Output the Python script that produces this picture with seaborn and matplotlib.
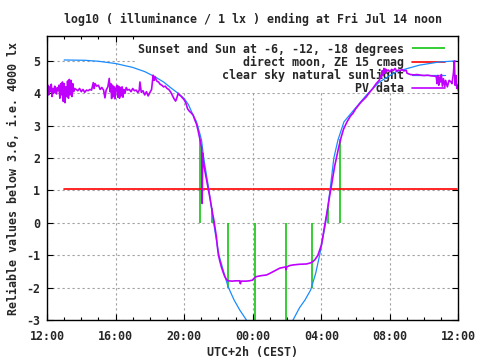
import matplotlib
matplotlib.use("Agg")
import pandas as pd
import matplotlib.pyplot as plt
from matplotlib.patches import Rectangle
import seaborn as sns

# hours after Thu 12:00 CEST
sun_hours = [8.95, 9.65, 10.56, 12.13, 13.94, 15.47, 16.39, 17.08]
sun_tops = [2.58, 0.45, -2.0, -3.0, -3.0, -2.0, 0.45, 2.58]

moon_hours = [1.0, 11.93, 12.0, 23.9]
moon_values = [1.06, 1.06, 1.06, 1.06]
moon_segment = [0, 0, 1, 1]

sky_hours = [1.0, 2.2, 3.0, 4.0, 5.0, 5.7, 6.3, 6.8, 7.27, 7.65, 8.0, 8.25, 8.5,
             8.72, 8.9, 9.01, 9.14, 9.43, 9.72, 9.87, 10.03, 10.33, 10.56, 10.91,
             11.24, 11.63, 11.9, 14.1, 14.35, 14.73, 15.05, 15.38, 15.67, 15.9,
             16.06, 16.25, 16.52, 16.73, 16.97, 17.32, 17.84, 18.62, 19.39, 20.37,
             21.72, 22.9, 23.86]
sky_values = [5.03, 5.02, 4.99, 4.92, 4.80, 4.67, 4.51, 4.35, 4.15, 4.0, 3.84, 3.65, 3.35,
              3.12, 2.78, 2.56, 2.0, 1.06, 0.0, -0.5, -1.0, -1.56, -1.97, -2.38,
              -2.69, -3.0, -3.3, -3.3, -3.0, -2.62, -2.38, -2.07, -1.56, -1.0,
              -0.56, 0.0, 1.06, 2.0, 2.56, 3.12, 3.45, 3.94, 4.35, 4.67,
              4.87, 4.97, 5.0]

pv_hours = [0.00, 0.05, 0.10, 0.15, 0.20, 0.25, 0.30, 0.35, 0.40, 0.45, 0.50, 0.55,
            0.60, 0.65, 0.70, 0.75, 0.80, 0.85, 0.90, 0.95, 1.00, 1.05, 1.10, 1.15,
            1.20, 1.25, 1.30, 1.35, 1.40, 1.45, 1.50, 1.55, 1.60, 1.70, 1.80, 1.90,
            2.00, 2.10, 2.20, 2.30, 2.40, 2.50, 2.60, 2.70, 2.75, 2.80, 2.90, 3.00,
            3.10, 3.20, 3.30, 3.38, 3.45, 3.55, 3.63, 3.68, 3.72, 3.77, 3.82, 3.87,
            3.92, 3.96, 4.02, 4.08, 4.13, 4.18, 4.23, 4.28, 4.33, 4.38, 4.43, 4.48,
            4.55, 4.62, 4.70, 4.80, 4.90, 5.00, 5.10, 5.20, 5.30, 5.38, 5.42, 5.50,
            5.60, 5.70, 5.80, 5.90, 6.00, 6.10, 6.19, 6.25, 6.29, 6.40, 6.50, 6.60,
            6.70, 6.80, 6.90, 7.00, 7.10, 7.20, 7.30, 7.40, 7.50, 7.55, 7.65, 7.72,
            7.80, 7.90, 8.00, 8.10, 8.20, 8.30, 8.40, 8.52, 8.62, 8.72, 8.80, 8.87,
            8.95, 9.02, 9.05, 9.08, 9.12, 9.20, 9.30, 9.40, 9.50, 9.59, 9.66, 9.73,
            9.80, 9.88, 9.94, 10.00, 10.08, 10.17, 10.27, 10.37, 10.47, 10.56, 10.80,
            11.00, 11.24, 11.28, 11.32, 11.60, 11.80, 11.98, 12.10, 12.21, 12.50,
            12.80, 13.00, 13.18, 13.40, 13.57, 13.75, 13.92, 13.95, 13.98, 14.15,
            14.35, 14.70, 15.13, 15.35, 15.51, 15.65, 15.80, 15.90, 16.00, 16.08,
            16.15, 16.27, 16.39, 16.48, 16.58, 16.68, 16.77, 16.90, 17.02, 17.16,
            17.30, 17.50, 17.70, 17.84, 18.00, 18.30, 18.62, 18.80, 19.00, 19.20,
            19.39, 19.45, 19.50, 19.55, 19.60, 19.65, 19.70, 19.75, 19.80, 19.90,
            20.00, 20.10, 20.20, 20.30, 20.40, 20.50, 20.60, 20.70, 20.80, 20.95,
            21.00, 21.20, 21.40, 21.60, 21.80, 22.00, 22.20, 22.40, 22.60, 22.70,
            22.75, 22.80, 22.85, 22.90, 22.95, 23.00, 23.06, 23.12, 23.20, 23.25,
            23.30, 23.35, 23.45, 23.55, 23.62, 23.70, 23.76, 23.80, 23.85, 23.90,
            23.95, 24.00]
pv_values = [4.10, 4.25, 3.95, 4.20, 4.05, 4.28, 3.90, 4.15, 4.02, 4.22, 4.12, 3.98,
             4.18, 4.08, 4.25, 3.85, 4.30, 3.95, 4.35, 3.75, 4.30, 3.71, 4.20, 3.90,
             4.38, 3.85, 4.43, 3.95, 4.40, 3.90, 4.30, 4.05, 4.15, 4.12, 4.08, 4.15,
             4.05, 4.12, 4.03, 4.10, 4.08, 4.12, 4.10, 4.33, 4.15, 4.30, 4.22, 4.25,
             4.12, 4.18, 4.10, 3.86, 4.10, 4.20, 4.46, 4.05, 4.30, 3.84, 4.25, 3.90,
             4.20, 3.83, 4.15, 4.25, 3.88, 4.22, 3.85, 4.18, 3.92, 4.20, 3.88, 4.12,
             4.00, 4.18, 4.10, 4.12, 4.05, 4.15, 4.08, 4.10, 4.02, 4.10, 4.35, 4.03,
             4.08, 3.95, 4.05, 3.92, 4.02, 4.12, 4.56, 4.40, 4.52, 4.38, 4.35, 4.28,
             4.25, 4.20, 4.22, 4.15, 4.12, 4.05, 3.95, 3.84, 3.76, 3.82, 4.00, 3.95,
             3.92, 3.86, 3.80, 3.70, 3.52, 3.45, 3.40, 3.33, 3.18, 3.05, 2.88, 2.71,
             2.50, 2.30, 0.60, 2.15, 1.90, 1.63, 1.35, 1.06, 0.78, 0.50, 0.28, 0.09,
             -0.15, -0.43, -0.75, -1.00, -1.18, -1.36, -1.52, -1.66, -1.75, -1.79, -1.80,
             -1.79, -1.79, -1.88, -1.80, -1.80, -1.79, -1.77, -1.70, -1.66, -1.63,
             -1.61, -1.56, -1.51, -1.45, -1.40, -1.38, -1.36, -1.45, -1.36, -1.32,
             -1.30, -1.28, -1.27, -1.24, -1.20, -1.12, -1.00, -0.85, -0.69, -0.45,
             -0.22, 0.15, 0.50, 0.82, 1.12, 1.45, 1.73, 2.05, 2.35, 2.65,
             2.90, 3.12, 3.30, 3.38, 3.52, 3.72, 3.89, 4.02, 4.15, 4.30,
             4.41, 4.55, 4.48, 4.70, 4.55, 4.77, 4.62, 4.75, 4.68, 4.72,
             4.66, 4.74, 4.70, 4.77, 4.68, 4.72, 4.70, 4.74, 4.69, 4.71,
             4.62, 4.58, 4.57, 4.58, 4.56, 4.55, 4.56, 4.54, 4.53, 4.52,
             4.30, 4.55, 4.25, 4.50, 4.35, 4.58, 4.22, 4.45, 4.20, 4.40,
             4.30, 4.20, 4.40, 4.36, 4.30, 4.60, 5.00, 4.25, 4.55, 4.15,
             4.25, 4.08]

x_ticks = [0, 4, 8, 12, 16, 20, 24]
x_tick_labels = ["12:00", "16:00", "20:00", "00:00", "04:00", "08:00", "12:00"]
y_ticks = [-3, -2, -1, 0, 1, 2, 3, 4, 5]
y_tick_labels = ["-3", "-2", "-1", "0", "1", "2", "3", "4", "5"]

GREEN = "#00c000"
RED = "#ff0000"
BLUE = "#1a8cff"
PURPLE = "#c000ff"

sns.set_style("ticks")
plt.rcParams["font.family"] = ["DejaVu Sans Mono"]
plt.rcParams["font.weight"] = "bold"
plt.rcParams["axes.titleweight"] = "bold"
plt.rcParams["axes.labelweight"] = "bold"
FS = 8.4

fig, ax = plt.subplots(figsize=(4.8, 3.6), dpi=100)
fig.subplots_adjust(left=0.0979, right=0.9552, bottom=0.1111, top=0.9)

moon_df = pd.DataFrame({"hour": moon_hours, "value": moon_values, "seg": moon_segment})

sun_lines = ax.vlines(sun_hours, 0, sun_tops, colors=GREEN, linewidth=1.1, zorder=2)

# the moon line comes in two pieces, with a tiny gap near midnight
moon_line = None
for _, seg in moon_df.groupby("seg"):
    sns.lineplot(data=seg, x="hour", y="value", sort=False, estimator=None,
                 color=RED, linewidth=1.2, ax=ax, zorder=2.1)
    if moon_line is None:
        moon_line = ax.lines[-1]

sns.lineplot(x=sky_hours, y=sky_values, sort=False, estimator=None,
             color=BLUE, linewidth=0.9, ax=ax, zorder=2.2)
sky_line = ax.lines[-1]
sns.lineplot(x=pv_hours, y=pv_values, sort=False, estimator=None,
             color=PURPLE, linewidth=1.2, ax=ax, zorder=2.3)
pv_line = ax.lines[-1]

ax.set_xlim(0, 24)
ax.set_ylim(-3, 5.77)
ax.set_xticks(x_ticks)
ax.set_xticklabels(x_tick_labels)
ax.set_xticks(range(25), minor=True)
ax.set_yticks(y_ticks)
ax.set_yticklabels(y_tick_labels)
ax.tick_params(which="both", direction="in", top=True, right=True,
               labelsize=FS, color="black", width=0.8)
ax.tick_params(which="major", length=4.5, pad=5)
ax.tick_params(which="minor", length=2.5)
ax.tick_params(axis="x", which="major", pad=7)

ax.set_axisbelow(True)
ax.grid(True, which="major", color="#a0a0a0", linestyle=(0, (2, 2.5)), linewidth=0.8)
for sp in ax.spines.values():
    sp.set_visible(True)
    sp.set_linewidth(1.0)
    sp.set_color("black")

# key area is kept free of grid lines, as in the original
ax.add_patch(Rectangle((0.214, 0.799), 0.769, 0.201, transform=ax.transAxes,
                       facecolor="white", edgecolor="none", zorder=1))

leg = ax.legend([sun_lines, moon_line, sky_line, pv_line],
                ["Sunset and Sun at -6, -12, -18 degrees",
                 "direct moon, ZE 15 cmag",
                 "clear sky natural sunlight",
                 "PV data"],
                loc="upper right", bbox_to_anchor=(0.966, 0.977),
                markerfirst=False, frameon=False, fontsize=FS,
                handlelength=2.75, handletextpad=0.7, labelspacing=0.0,
                borderpad=0, borderaxespad=0)
leg.set_zorder(1.5)

ax.set_title("log10 ( illuminance / 1 lx ) ending at Fri Jul 14 noon", fontsize=FS, pad=9)
ax.set_xlabel("UTC+2h (CEST)", fontsize=FS, labelpad=2)
ax.set_ylabel("Reliable values below 3.6, i.e. 4000 lx", fontsize=FS, labelpad=4)

fig.savefig("out.png", dpi=100)
